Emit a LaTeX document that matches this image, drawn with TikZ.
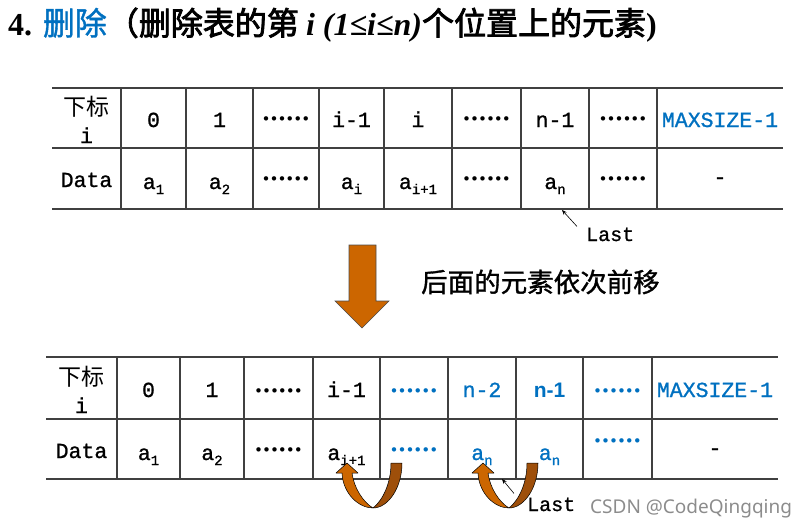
\documentclass[tikz,border=0pt]{standalone}
\usepackage{fontspec}
\usetikzlibrary{arrows.meta}
\newfontfamily\cjk{Noto Sans CJK SC}
\newfontfamily\cjkB{Noto Sans CJK SC}[FakeBold=2.5]
\newfontfamily\cjkM{Noto Sans CJK SC}[FakeBold=1.2]
\newfontfamily\tserif{Liberation Serif}
\newfontfamily\tmono{Liberation Mono}[FakeBold=1]
\newfontfamily\tsans{Liberation Sans}
\newfontfamily\dotface{DejaVu Sans}
\newfontfamily\wmark{Noto Sans}
\definecolor{pblue}{HTML}{0070C0}
\definecolor{aorange}{HTML}{CC6600}
\definecolor{abrown}{HTML}{9E4F0A}
\newcommand\tabsz{\fontsize{21.5}{24}\selectfont}
\newcommand\lsub[1]{\raisebox{-5pt}{\fontsize{14}{16}\selectfont #1}}
\newcommand\sixdots{••••••}
\newcommand\uturnarrow[1]{%
  \begin{scope}[shift={#1}]
    \filldraw[uturn, fill=aorange] (-37,-35) -- (-26,-45) -- (-15,-35) -- (-21,-35)
      .. controls (-19,-20) and (-10,-6) .. (0,0)
      .. controls (-14,0) and (-30,-14) .. (-31,-35) -- cycle;
    \filldraw[uturn, fill=abrown] (18,-45) -- (29,-45)
      .. controls (29,-20) and (15,0) .. (0,0)
      .. controls (10,-8) and (18,-25) .. (18,-45) -- cycle;
  \end{scope}}
\begin{document}
\begin{tikzpicture}[x=1pt,y=-1pt,
  grid/.style={line width=1.3pt, draw=black!75},
  txt/.style={anchor=base, inner sep=0pt, font=\tmono\tabsz},
  hdr/.style={anchor=base, inner sep=0pt, font=\cjk\fontsize{23}{26}\selectfont},
  dotsty/.style={anchor=base, inner sep=0pt, font=\dotface\bfseries\fontsize{12.5}{14}\selectfont},
  bsans/.style={anchor=base, inner sep=0pt, font=\tsans\bfseries\fontsize{21}{24}\selectfont},
  ptr/.style={line width=0.6pt, -{Stealth[length=5pt,width=4pt]}},
  uturn/.style={draw=black, line width=0.5pt, line join=round},
  lastlbl/.style={anchor=base west, inner sep=0pt, font=\tmono\fontsize{20}{22}\selectfont}]
\useasboundingbox (0,0) rectangle (805,528);

% title
\node[anchor=base west, inner sep=0pt, font=\fontsize{32}{36}\selectfont] (title) at (8,35)
  {{\tserif\bfseries 4. }{\cjkM\color{pblue}删除}{\cjkB （删除表的第 }{\tserif\bfseries\itshape i (1≤i≤n)}{\cjkB 个位置上的元素}{\tserif\bfseries )}};

% ---------- top table ----------
\foreach \yy in {88,148,209} \draw[grid] (52,\yy) -- (783,\yy);
\foreach \xx in {121,186,253,319,384,452,521,589,657} \draw[grid] (\xx,88) -- (\xx,209);

\node[hdr] (th) at (86.5,115.5) {下标};
\node[txt] (thi) at (86.5,143) {i};
\node[txt] (t0) at (153.5,127) {0};
\node[txt] (t1) at (219.5,127) {1};
\node[dotsty] (tdA) at (286,123) {\sixdots};
\node[txt] (tim) at (351.5,127) {i-1};
\node[txt] (ti) at (418,127) {i};
\node[dotsty] (tdB) at (486.5,123) {\sixdots};
\node[txt] (tn) at (555,127) {n-1};
\node[dotsty] (tdC) at (623,123) {\sixdots};
\node[txt, text=pblue] (tmax) at (720,127) {MAXSIZE-1};

\node[txt] (tdata) at (86.5,187) {Data};
\node[txt] (ta1) at (153.5,189) {a\lsub{1}};
\node[txt] (ta2) at (219.5,189) {a\lsub{2}};
\node[dotsty] (tdD) at (286,183) {\sixdots};
\node[txt] (tai) at (351.5,189) {a\lsub{i}};
\node[txt] (taip) at (418,189) {a\lsub{i+1}};
\node[dotsty] (tdE) at (486.5,183) {\sixdots};
\node[txt] (tan) at (555,189) {a\lsub{n}};
\node[dotsty] (tdF) at (623,183) {\sixdots};
\node[txt] (tdash) at (720,184) {-};

\node[lastlbl] (last1) at (586,241) {Last};
\coordinate (lp1) at (562,210);
\draw[ptr] ([shift={(-9,-1)}]last1.north west) -- (lp1);

% ---------- big arrow ----------
\filldraw[fill=aorange, draw=black!70, line width=0.6pt, line join=miter]
  (349,245) -- (376,245) -- (376,301) -- (389,301) -- (362,328) -- (335,301) -- (349,301) -- cycle;
\node[anchor=base west, inner sep=0pt, font=\cjkM\fontsize{26.5}{30}\selectfont] (note) at (421,292) {后面的元素依次前移};

% ---------- bottom table ----------
\foreach \yy in {357,419,479} \draw[grid] (46,\yy) -- (778,\yy);
\foreach \xx in {117,180,244,313,380,448,516,583,652} \draw[grid] (\xx,357) -- (\xx,479);

\node[hdr] (bh) at (81.5,385) {下标};
\node[txt] (bhi) at (81.5,413) {i};
\node[txt] (b0) at (148.5,397) {0};
\node[txt] (b1) at (212,397) {1};
\node[dotsty] (bdA) at (278.5,395) {\sixdots};
\node[txt] (bim) at (346.5,397) {i-1};
\node[dotsty, text=pblue] (bdB) at (414,395) {\sixdots};
\node[txt, text=pblue] (bn2) at (482,397) {n-2};
\node[bsans, text=pblue] (bn1) at (549.5,397) {n-1};
\node[dotsty, text=pblue] (bdC) at (617.5,395) {\sixdots};
\node[txt, text=pblue] (bmax) at (715,397) {MAXSIZE-1};

\node[txt] (bdata) at (81.5,458) {Data};
\node[txt] (ba1) at (148.5,460) {a\lsub{1}};
\node[txt] (ba2) at (212,460) {a\lsub{2}};
\node[dotsty] (bdD) at (278.5,454) {\sixdots};
\node[txt] (baip) at (346.5,460) {a\lsub{i+1}};
\node[dotsty, text=pblue] (bdE) at (414,454) {\sixdots};
\node[txt, text=pblue] (ban1) at (482,460) {a\lsub{n}};
\node[txt, text=pblue] (ban2) at (549.5,460) {a\lsub{n}};
\node[dotsty, text=pblue] (bdF) at (617.5,445) {\sixdots};
\node[txt] (bdash) at (715,455) {-};

% curved arrows
\uturnarrow{(373,508)}
\uturnarrow{(509,508)}

\node[lastlbl] (last2) at (527,511) {Last};
\coordinate (lp2) at (502,479);
\draw[ptr] ([shift={(-13,-4)}]last2.north west) -- (lp2);

% watermark
\node[anchor=base west, inner sep=0pt, font=\wmark\fontsize{19}{22}\selectfont, text=black!45] (wm) at (590,513) {CSDN @CodeQingqing};
\end{tikzpicture}
\end{document}
